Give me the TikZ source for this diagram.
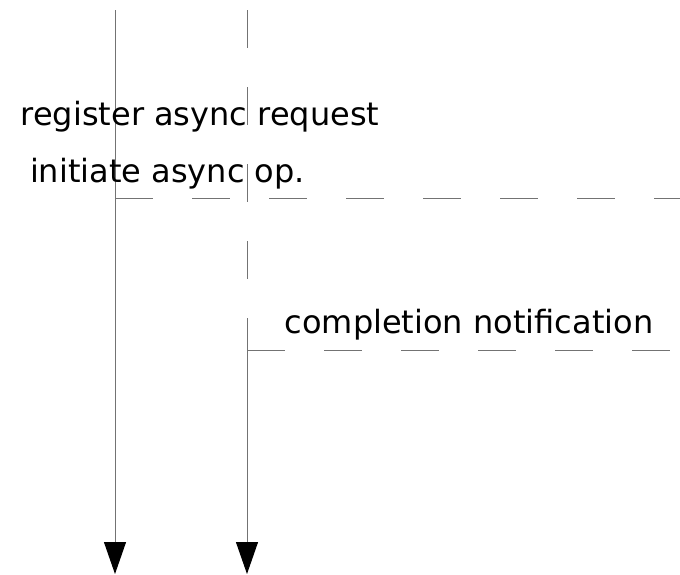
\documentclass[tikz,border=0pt]{standalone}
\usepackage{fontspec}
\setmainfont{DejaVu Sans}
\usetikzlibrary{arrows.meta}
\begin{document}
\begin{tikzpicture}[x=1pt,y=-1pt,
  lifeline/.style={draw=black!55, line width=1pt},
  msgline/.style={draw=black!55, line width=1pt, dash pattern=on 38pt off 39pt},
  flow/.style={-{Triangle[length=32pt,width=22pt,color=black]}},
  msgtext/.style={font=\fontsize{32}{38}\selectfont, anchor=base, inner sep=0pt}]
\useasboundingbox (0,0) rectangle (680,574);

% lifeline end points
\coordinate (a top) at (115,10);
\coordinate (a end) at (115,574);
\coordinate (b top) at (247,10);
\coordinate (b mid) at (247,350);
\coordinate (b end) at (247,574);
% message end points
\coordinate (req start) at (115,198);
\coordinate (req end) at (680,198);
\coordinate (done end) at (670,350);

% lifelines
\draw[lifeline, flow] (a top) -- (a end);
\draw[msgline] (b top) -- (b mid);
\draw[lifeline, flow] (b mid) -- (b end);

% messages
\draw[msgline] (req start) -- (req end);
\draw[msgline] (b mid) -- (done end);

% labels
\node[msgtext] (register) at (200,125) {register async request};
\node[msgtext] (initiate) at (167.5,182) {initiate async op.};
\node[msgtext] (completion) at (469,333) {completion notification};
\end{tikzpicture}
\end{document}
